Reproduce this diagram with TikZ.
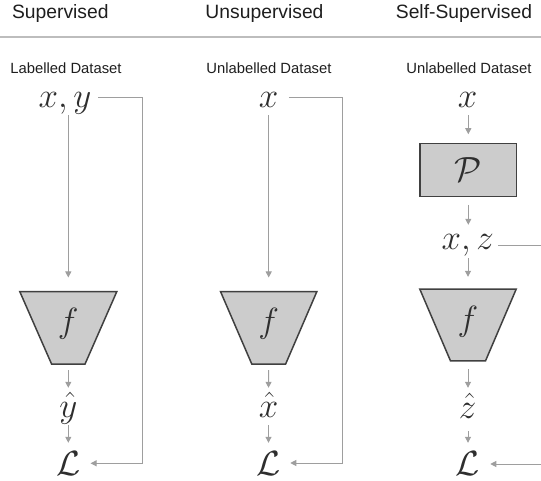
\RequirePackage{fix-cm}
\documentclass[tikz,border=0pt]{standalone}
\usepackage[no-math]{fontspec}
\setmainfont{Liberation Sans}
\usetikzlibrary{arrows.meta}
\definecolor{conngray}{HTML}{9E9E9E}
\definecolor{edgegray}{HTML}{404040}
\definecolor{boxfill}{HTML}{CCCCCC}
\definecolor{mtext}{HTML}{2E2E2E}
\definecolor{ttext}{HTML}{1E1E1E}
\definecolor{rulegray}{HTML}{BDBDBD}
\begin{document}
\begin{tikzpicture}[x=1pt,y=-1pt,
  mathn/.style={inner sep=0pt,text height=24.5pt,text depth=7pt,font=\fontsize{35}{42}\selectfont,text=mtext},
  title/.style={font=\fontsize{19.3}{23}\selectfont,text=ttext,inner sep=0pt,anchor=base},
  dset/.style={font=\fontsize{14.8}{18}\selectfont,text=ttext,inner sep=0pt,anchor=base},
  arr/.style={draw=conngray,line width=1pt,-{Triangle[length=6pt,width=6pt]}},
  boxn/.style={inner sep=0pt,draw=none},
  trap/.style={draw=edgegray,fill=boxfill,line width=1.5pt,line join=miter},
  pbox/.style={draw=edgegray,fill=boxfill,line width=1.5pt,inner sep=0pt,minimum width=96.7pt,minimum height=53.4pt,font=\fontsize{35}{42}\selectfont,text=mtext},
  rulestyle/.style={draw=rulegray,line width=2pt}
]
\useasboundingbox (0,0) rectangle (541,481);

% titles
\node[title] (t1) at (60.3,18.3) {Supervised};
\node[title] (t2) at (264.5,18.3) {Unsupervised};
\node[title] (t3) at (464,18.3) {Self-Supervised};
\coordinate (rl) at (0,36.7);
\coordinate (rr) at (541,36.7);
\draw[rulestyle] (rl) -- (rr);

% dataset labels
\node[dset] (d1) at (66,74) {Labelled Dataset};
\node[dset] (d2) at (269,74) {Unlabelled Dataset};
\node[dset] (d3) at (469,74) {Unlabelled Dataset};

% ---------- column 1 ----------
\node[mathn,anchor=base] (xy) at (65,108) {$x,y$};
\node[boxn,minimum width=96.7pt,minimum height=72.3pt] (f1) at (68.3,327.85) {};
\draw[trap] (f1.north west) -- (f1.north east) -- ([xshift=16.65pt]f1.south) -- ([xshift=-16.65pt]f1.south) -- cycle;
\node[mathn] (ft1) at (68.3,324) {$f$};
\node[mathn,anchor=base] (yh) at (68.3,417) {$\hat{y}$};
\node[mathn,anchor=base] (L1) at (68.3,475) {$\mathcal{L}$};
\coordinate (r1t) at (142.7,97.3);
\coordinate (r1b) at (142.7,463.3);
\draw[arr,shorten >=14pt] (xy.south -| f1.north) -- (f1.north);
\draw[arr,shorten <=6pt,shorten >=4.5pt] (f1.south) -- (yh.north);
\draw[arr,shorten <=1pt,shorten >=7.5pt] (yh.south) -- (L1.north);
\draw[arr,shorten <=6.6pt,shorten >=10pt] (xy.east |- r1t) -- (r1t) -- (r1b) -- (L1.east |- r1b);

% ---------- column 2 ----------
\node[mathn,anchor=base] (x2) at (268.5,108) {$x$};
\node[boxn,minimum width=96pt,minimum height=72.3pt] (f2) at (268.7,327.85) {};
\draw[trap] (f2.north west) -- (f2.north east) -- ([xshift=16.85pt]f2.south) -- ([xshift=-16.85pt]f2.south) -- cycle;
\node[mathn] (ft2) at (268.7,324) {$f$};
\node[mathn,anchor=base] (xh) at (268.5,417) {$\hat{x}$};
\node[mathn,anchor=base] (L2) at (268.5,475) {$\mathcal{L}$};
\coordinate (r2t) at (342.7,97.7);
\coordinate (r2b) at (342.7,463);
\draw[arr,shorten >=14pt] (x2.south -| f2.north) -- (f2.north);
\draw[arr,shorten <=6pt,shorten >=4.5pt] (f2.south) -- (xh.north);
\draw[arr,shorten <=1pt,shorten >=7.5pt] (xh.south) -- (L2.north);
\draw[arr,shorten <=10.5pt,shorten >=9.5pt] (x2.east |- r2t) -- (r2t) -- (r2b) -- (L2.east |- r2b);

% ---------- column 3 ----------
\node[mathn,anchor=base] (x3) at (467.7,108) {$x$};
\node[pbox] (P) at (468.3,170) {$\mathcal{P}$};
\node[mathn,anchor=base] (xz) at (467.7,250) {$x,z$};
\node[boxn,minimum width=96pt,minimum height=71.4pt] (f3) at (468,325) {};
\draw[trap] (f3.north west) -- (f3.north east) -- ([xshift=17.5pt]f3.south) -- ([xshift=-17.5pt]f3.south) -- cycle;
\node[mathn] (ft3) at (468,321.5) {$f$};
\node[mathn,anchor=base] (zh) at (467.7,418) {$\hat{z}$};
\node[mathn,anchor=base] (L3) at (467.7,475) {$\mathcal{L}$};
\coordinate (r3t) at (541,246);
\coordinate (r3b) at (541,464);
\draw[arr,shorten >=8.3pt] (x3.south -| P.north) -- (P.north);
\draw[arr,shorten <=7.5pt,shorten >=0.5pt] (P.south) -- (xz.north -| P.south);
\draw[arr,shorten <=1pt,shorten >=12.3pt] (xz.south -| f3.north) -- (f3.north);
\draw[arr,shorten <=8.3pt,shorten >=5.5pt] (f3.south) -- (zh.north -| f3.south);
\draw[arr,shorten <=6pt,shorten >=7.5pt] (zh.south -| f3.south) -- (L3.north -| f3.south);
\draw[draw=conngray,line width=1pt,shorten <=4.4pt] (xz.east |- r3t) -- (r3t);
\draw[arr,shorten >=10.3pt] (r3b) -- (L3.east |- r3b);
\end{tikzpicture}
\end{document}
